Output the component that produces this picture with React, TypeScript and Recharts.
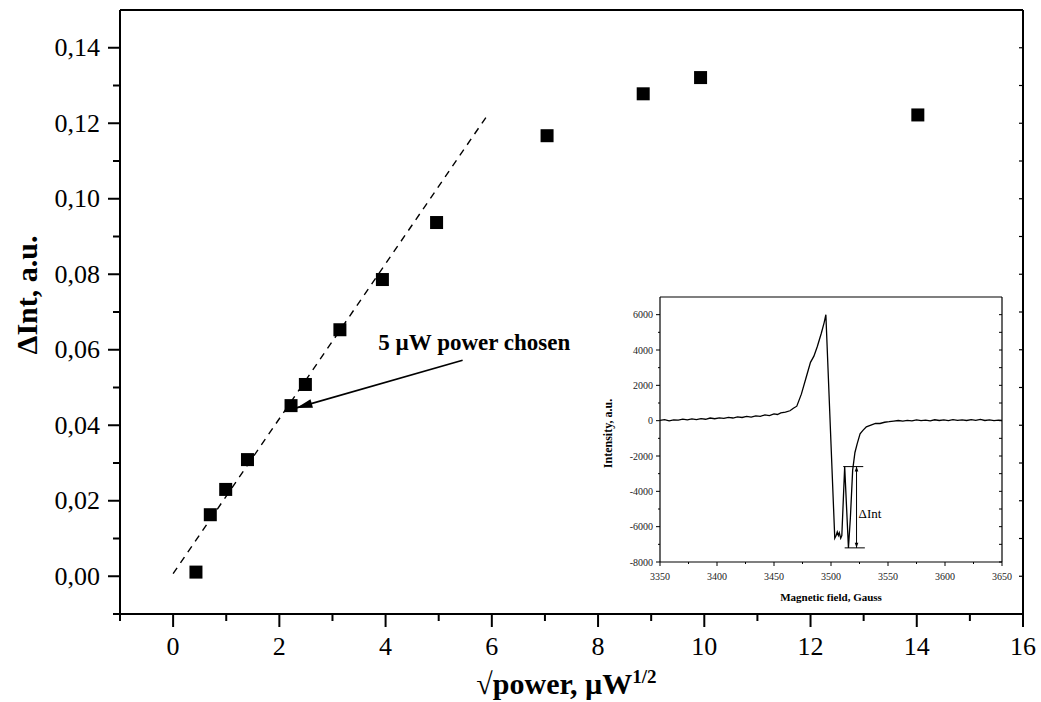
import React from "react";
import {
  ComposedChart,
  LineChart,
  Line,
  Scatter,
  XAxis,
  YAxis,
  ReferenceLine,
  ReferenceDot,
} from "recharts";

// main plot: signal amplitude vs sqrt(microwave power)
const sqrtPower = [0.43, 0.7, 0.99, 1.4, 2.22, 2.49, 3.14, 3.94, 4.96, 7.04, 8.85, 9.93, 14.02];
const deltaInt = [0.0011, 0.0163, 0.023, 0.0309, 0.0452, 0.0508, 0.0653, 0.0786, 0.0937, 0.1167, 0.1278, 0.1321, 0.1222];

// linear fit through the low-power points
const fitX = [0, 5.95];
const fitY = [0.0007, 0.1228];

const mainXTicks = [-1, 0, 1, 2, 3, 4, 5, 6, 7, 8, 9, 10, 11, 12, 13, 14, 15, 16];
const mainYTicks = [-0.01, 0, 0.01, 0.02, 0.03, 0.04, 0.05, 0.06, 0.07, 0.08, 0.09, 0.1, 0.11, 0.12, 0.13, 0.14];

const chosenText = "5 µW power chosen";
const chosenTextAt = { x: 5.67, y: 0.0619 };
const chosenArrow = [
  { x: 5.45, y: 0.0572 },
  { x: 2.32, y: 0.0446 },
];

// inset: EPR spectrum
const field = [
  3350, 3354, 3358, 3362, 3366, 3370, 3374, 3378, 3382, 3386, 3390, 3394, 3398, 3402, 3406, 3410,
  3414, 3418, 3422, 3426, 3430, 3434, 3438, 3442, 3446, 3450, 3453, 3456, 3460, 3464, 3467, 3470,
  3474, 3478, 3482, 3485, 3488, 3491.5, 3494, 3495.5, 3503.3, 3504.5, 3505.5, 3506.5, 3507.3, 3508.5,
  3509.5, 3512, 3515.3, 3517, 3519, 3521, 3523, 3525.5, 3528, 3531, 3535, 3539, 3543, 3547, 3551,
  3555, 3559, 3563, 3567, 3571, 3575, 3579, 3583, 3587, 3591, 3595, 3599, 3603, 3607, 3611, 3615,
  3619, 3623, 3627, 3631, 3635, 3639, 3643, 3647, 3650,
];
const intensity = [
  20, 60, -10, 50, 30, 90, 40, 100, 60, 120, 80, 150, 110, 160, 130, 190,
  150, 210, 180, 240, 200, 270, 240, 330, 290, 380, 350, 440, 480, 560, 700, 820,
  1500, 2400, 3300, 3650, 4200, 4950, 5550, 6000, -6650, -6500, -6300, -6500, -6350, -6650,
  -6500, -2600, -7200, -5500, -2800, -1800, -1300, -750, -550, -350, -250, -150, -160, -90, -60,
  -20, 10, -30, 20, -10, 40, 0, 30, -10, 50, 10, 40, 0, 60, 20, 50,
  10, 60, 20, 70, 10, 40, 0, 30, 10,
];

const insetXTicks = [3350, 3375, 3400, 3425, 3450, 3475, 3500, 3525, 3550, 3575, 3600, 3625, 3650];
const insetYTicks = [-8000, -7000, -6000, -5000, -4000, -3000, -2000, -1000, 0, 1000, 2000, 3000, 4000, 5000, 6000];

// ΔInt bracket
const deltaTop = [
  { x: 3510.7, y: -2600 },
  { x: 3528.3, y: -2600 },
];
const deltaBottom = [
  { x: 3512, y: -7200 },
  { x: 3529.7, y: -7200 },
];
const deltaArrow = [
  { x: 3522.4, y: -2600 },
  { x: 3522.4, y: -7200 },
];

const FONT = "'Liberation Serif', 'Times New Roman', serif";

const points = sqrtPower.map((x, i) => ({ x, y: deltaInt[i] }));
const fit = fitX.map((x, i) => ({ x, y: fitY[i] }));
const spectrum = field.map((g, i) => ({ g, i: intensity[i] }));

const fmtComma = (v: number) => v.toFixed(2).replace(".", ",");

const MainXTick = (p: any) => {
  const v = p.payload.value;
  const major = v >= 0 && v % 2 === 0;
  return (
    <g>
      <line x1={p.x} x2={p.x} y1={p.y} y2={p.y + (major ? 13 : 7)} stroke="#000" strokeWidth={2} />
      {major && (
        <text x={p.x} y={p.y + 32} textAnchor="middle" dominantBaseline="central" fontSize={26} fontFamily={FONT} fill="#000">
          {v}
        </text>
      )}
    </g>
  );
};

const MainYTick = (p: any) => {
  const v = p.payload.value;
  const k = Math.round(v * 100);
  const major = k >= 0 && k % 2 === 0;
  return (
    <g>
      <line x1={p.x - (major ? 12 : 7)} x2={p.x} y1={p.y} y2={p.y} stroke="#000" strokeWidth={2} />
      {major && (
        <text x={p.x - 20} y={p.y} textAnchor="end" dominantBaseline="central" fontSize={26} fontFamily={FONT} fill="#000">
          {fmtComma(v)}
        </text>
      )}
    </g>
  );
};

// inward ticks for the top / right frame axes
const TopInTick = (len: number, w: number) => (p: any) => (
  <line x1={p.x} x2={p.x} y1={p.y} y2={p.y + len} stroke="#000" strokeWidth={w} />
);
const RightInTick = (len: number, w: number) => (p: any) => (
  <line x1={p.x - len} x2={p.x} y1={p.y} y2={p.y} stroke="#000" strokeWidth={w} />
);

const InsetXTick = (p: any) => {
  const v = p.payload.value;
  const major = v % 50 === 0;
  return (
    <g>
      <line x1={p.x} x2={p.x} y1={p.y} y2={p.y + (major ? 4 : 2)} stroke="#000" strokeWidth={1} />
      {major && (
        <text x={p.x} y={p.y + 14} textAnchor="middle" dominantBaseline="central" fontSize={10} fontFamily={FONT} fill="#222">
          {v}
        </text>
      )}
    </g>
  );
};

const InsetYTick = (p: any) => {
  const v = p.payload.value;
  const major = v % 2000 === 0;
  return (
    <g>
      <line x1={p.x - (major ? 4 : 2)} x2={p.x} y1={p.y} y2={p.y} stroke="#000" strokeWidth={1} />
      {major && (
        <text x={p.x - 7} y={p.y} textAnchor="end" dominantBaseline="central" fontSize={10} fontFamily={FONT} fill="#222">
          {v}
        </text>
      )}
    </g>
  );
};

const Square = (p: any) => (
  <rect x={p.cx - 6.5} y={p.cy - 6.5} width={13} height={13} fill="#000" />
);

const arrowHead = (x: number, y: number, fromX: number, fromY: number, len: number, half: number) => {
  const dx = x - fromX;
  const dy = y - fromY;
  const d = Math.hypot(dx, dy) || 1;
  const ux = dx / d;
  const uy = dy / d;
  const bx = x - ux * len;
  const by = y - uy * len;
  return `${x},${y} ${bx - uy * half},${by + ux * half} ${bx + uy * half},${by - ux * half}`;
};

const ChosenArrow = (p: any) => (
  <g>
    <line x1={p.x1} y1={p.y1} x2={p.x2} y2={p.y2} stroke="#000" strokeWidth={1.6} />
    <polygon points={arrowHead(p.x2, p.y2, p.x1, p.y1, 16, 4.5)} fill="#000" />
  </g>
);

const ChosenText = (p: any) => (
  <text x={p.cx} y={p.cy} textAnchor="middle" dominantBaseline="central" fontSize={23} fontWeight="bold" fontFamily={FONT} fill="#000">
    {chosenText}
  </text>
);

const DeltaArrow = (p: any) => (
  <g>
    <line x1={p.x1} y1={p.y1} x2={p.x2} y2={p.y2} stroke="#000" strokeWidth={1} />
    <polygon points={arrowHead(p.x1, p.y1, p.x2, p.y2, 5, 1.8)} fill="#000" />
    <polygon points={arrowHead(p.x2, p.y2, p.x1, p.y1, 5, 1.8)} fill="#000" />
    <text x={p.x1 + 2} y={(p.y1 + p.y2) / 2 + 6} dominantBaseline="central" fontSize={13} fontFamily={FONT} fill="#000">
      ΔInt
    </text>
  </g>
);

const MainYLabel = (p: any) => {
  const vb = p.viewBox;
  const cx = vb.x + 26;
  const cy = vb.y + vb.height / 2 - 17;
  return (
    <text x={cx} y={cy} transform={`rotate(-90 ${cx} ${cy})`} textAnchor="middle" dominantBaseline="central" fontSize={30} fontWeight="bold" fontFamily={FONT} fill="#000">
      ΔInt, a.u.
    </text>
  );
};

const MainXLabel = (p: any) => {
  const vb = p.viewBox;
  return (
    <text x={vb.x + vb.width / 2 - 5} y={vb.y + 80} textAnchor="middle" fontSize={30} fontWeight="bold" fontFamily={FONT} fill="#000">
      √power, µW
      <tspan fontSize={19} dy={-11}>1/2</tspan>
    </text>
  );
};

const InsetYLabel = (p: any) => {
  const vb = p.viewBox;
  const cx = vb.x + 48;
  const cy = vb.y + vb.height / 2 + 4;
  return (
    <text x={cx} y={cy} transform={`rotate(-90 ${cx} ${cy})`} textAnchor="middle" dominantBaseline="central" fontSize={12} fontWeight="bold" fontFamily={FONT} fill="#000">
      Intensity, a.u.
    </text>
  );
};

const InsetXLabel = (p: any) => {
  const vb = p.viewBox;
  return (
    <text x={vb.x + vb.width / 2} y={vb.y + 35} textAnchor="middle" dominantBaseline="central" fontSize={11} fontWeight="bold" fontFamily={FONT} fill="#000">
      Magnetic field, Gauss
    </text>
  );
};

export default function App() {
  return (
    <div style={{ position: "absolute", left: 0, top: 0, width: 1041, height: 702, background: "#fff" }}>
      <ComposedChart width={1041} height={702} margin={{ top: 10, right: 18, bottom: 0, left: 0 }}>
        <XAxis
          dataKey="x"
          type="number"
          domain={[-1, 16]}
          ticks={mainXTicks}
          allowDataOverflow
          height={88}
          axisLine={{ stroke: "#000", strokeWidth: 2 }}
          tickLine={false}
          tickSize={0}
          tickMargin={0}
          tick={MainXTick}
          interval={0}
          label={<MainXLabel />}
        />
        <XAxis
          xAxisId="top"
          orientation="top"
          type="number"
          domain={[-1, 16]}
          ticks={mainXTicks}
          allowDataOverflow
          mirror
          axisLine={{ stroke: "#000", strokeWidth: 2 }}
          tickLine={false}
          tickSize={0}
          tickMargin={0}
          tick={TopInTick(4, 1.2)}
          interval={0}
        />
        <YAxis
          dataKey="y"
          type="number"
          domain={[-0.01, 0.15]}
          ticks={mainYTicks}
          allowDataOverflow
          width={120}
          axisLine={{ stroke: "#000", strokeWidth: 2 }}
          tickLine={false}
          tickSize={0}
          tickMargin={0}
          tick={MainYTick}
          interval={0}
          label={<MainYLabel />}
        />
        <YAxis
          yAxisId="right"
          orientation="right"
          type="number"
          domain={[-0.01, 0.15]}
          ticks={mainYTicks}
          allowDataOverflow
          mirror
          axisLine={{ stroke: "#000", strokeWidth: 2 }}
          tickLine={false}
          tickSize={0}
          tickMargin={0}
          tick={RightInTick(4, 1.2)}
          interval={0}
        />
        <Line
          data={fit}
          dataKey="y"
          type="linear"
          stroke="#000"
          strokeWidth={1.4}
          strokeDasharray="7 6"
          dot={false}
          activeDot={false}
          isAnimationActive={false}
        />
        <Scatter data={points} dataKey="y" fill="#000" shape={Square} isAnimationActive={false} />
        <ReferenceLine segment={chosenArrow} shape={ChosenArrow} />
        <ReferenceDot x={chosenTextAt.x} y={chosenTextAt.y} r={0} shape={ChosenText} />
      </ComposedChart>

      <div style={{ position: "absolute", left: 560, top: 280 }}>
        <LineChart width={470} height={330} data={spectrum} margin={{ top: 17, right: 28, bottom: 0, left: 0 }}>
          <XAxis
            dataKey="g"
            type="number"
            domain={[3350, 3650]}
            ticks={insetXTicks}
            allowDataOverflow
            height={48}
            axisLine={{ stroke: "#000", strokeWidth: 1.2 }}
            tickLine={false}
            tickSize={0}
            tickMargin={0}
            tick={InsetXTick}
            interval={0}
            label={<InsetXLabel />}
          />
          <XAxis
            xAxisId="top"
            orientation="top"
            type="number"
            domain={[3350, 3650]}
            ticks={insetXTicks}
            allowDataOverflow
            mirror
            axisLine={{ stroke: "#000", strokeWidth: 1.2 }}
            tickLine={false}
            tickSize={0}
            tickMargin={0}
            tick={TopInTick(3, 1)}
            interval={0}
          />
          <YAxis
            type="number"
            domain={[-8000, 7000]}
            ticks={insetYTicks}
            allowDataOverflow
            width={100}
            axisLine={{ stroke: "#000", strokeWidth: 1.2 }}
            tickLine={false}
            tickSize={0}
            tickMargin={0}
            tick={InsetYTick}
            interval={0}
            label={<InsetYLabel />}
          />
          <YAxis
            yAxisId="right"
            orientation="right"
            type="number"
            domain={[-8000, 7000]}
            ticks={insetYTicks}
            allowDataOverflow
            mirror
            axisLine={{ stroke: "#000", strokeWidth: 1.2 }}
            tickLine={false}
            tickSize={0}
            tickMargin={0}
            tick={RightInTick(3, 1)}
            interval={0}
          />
          <Line
            dataKey="i"
            type="linear"
            stroke="#000"
            strokeWidth={1.3}
            dot={false}
            activeDot={false}
            isAnimationActive={false}
          />
          <ReferenceLine segment={deltaTop} stroke="#000" strokeWidth={1} />
          <ReferenceLine segment={deltaBottom} stroke="#000" strokeWidth={1} />
          <ReferenceLine segment={deltaArrow} shape={DeltaArrow} />
        </LineChart>
      </div>
    </div>
  );
}
